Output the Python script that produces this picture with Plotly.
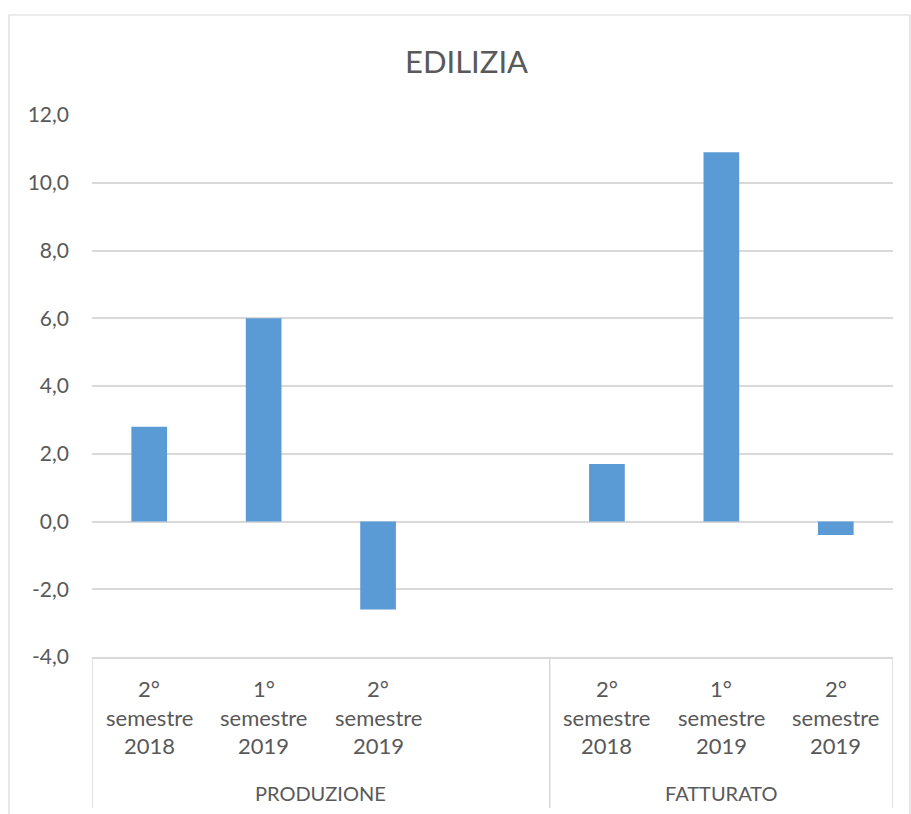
import plotly.graph_objects as go

# ---- data ----
groups = ["PRODUZIONE", "FATTURATO"]
periods_produzione = ["2° semestre 2018", "1° semestre 2019", "2° semestre 2019", ""]
periods_fatturato = ["2° semestre 2018", "1° semestre 2019", "2° semestre 2019"]
values_produzione = [2.8, 6.0, -2.6, None]
values_fatturato = [1.7, 10.9, -0.4]
y_ticks = [-4, -2, 0, 2, 4, 6, 8, 10, 12]
title_text = "EDILIZIA"

periods = periods_produzione + periods_fatturato
values = values_produzione + values_fatturato
xpos = list(range(len(periods)))
y_ticktext = [f"{v:.1f}".replace(".", ",") for v in y_ticks]

# ---- style ----
W, H = 911, 814
L, R, T, B = 92, 893, 115, 657
pw, ph = R - L, B - T
FONT = "Lato"
TXT = "#595959"
GRID = "#d9d9d9"
BAR = "#5b9bd5"


def py(pixel_y):
    return (B - pixel_y) / ph


def px(pixel_x):
    return (pixel_x - L) / pw


fig = go.Figure()
fig.add_trace(go.Bar(
    x=xpos, y=values,
    marker=dict(color=BAR, line=dict(width=0)),
    width=0.312, hoverinfo="skip",
))

annotations = []
# category labels (three lines each)
line_y = [688, 717, 746]
for i, lab in enumerate(periods):
    if not lab:
        continue
    parts = lab.split(" ")
    for j, part in enumerate(parts):
        annotations.append(dict(
            x=xpos[i], y=py(line_y[j]), xref="x", yref="paper",
            text=part, showarrow=False, xanchor="center", yanchor="middle",
            font=dict(family=FONT, size=22, color=TXT),
        ))

# group labels
n_prod = len(periods_produzione)
n_fatt = len(periods_fatturato)
group_centers = [(n_prod - 1) / 2, n_prod + (n_fatt - 1) / 2]
for g, c in zip(groups, group_centers):
    annotations.append(dict(
        x=c, y=py(793), xref="x", yref="paper",
        text=g, showarrow=False, xanchor="center", yanchor="middle",
        font=dict(family=FONT, size=20, color=TXT),
    ))

# title
annotations.append(dict(
    x=px(466), y=py(61), xref="paper", yref="paper",
    text=title_text, showarrow=False, xanchor="center", yanchor="middle",
    font=dict(family=FONT, size=31, color=TXT),
))

shapes = []
# group dividers
for xd in [-0.5, n_prod - 0.5, len(periods) - 0.5]:
    shapes.append(dict(type="line", xref="x", yref="paper",
                       x0=xd, x1=xd, y0=0, y1=py(808),
                       line=dict(color=GRID, width=1.5)))
# chart border
shapes.append(dict(type="rect", xref="paper", yref="paper",
                   x0=px(9), x1=px(910), y0=py(830), y1=py(15),
                   line=dict(color=GRID, width=1.2), fillcolor="rgba(0,0,0,0)",
                   layer="below"))

fig.update_layout(
    width=W, height=H,
    margin=dict(l=L, r=W - R, t=T, b=H - B, pad=0),
    paper_bgcolor="white", plot_bgcolor="white",
    showlegend=False,
    annotations=annotations,
    shapes=shapes,
    xaxis=dict(
        range=[-0.5, len(periods) - 0.5],
        showticklabels=False, showgrid=False, zeroline=False,
        showline=True, linecolor=GRID, linewidth=1.5, ticks="",
        fixedrange=True,
    ),
    yaxis=dict(
        range=[y_ticks[0], y_ticks[-1]],
        tickvals=y_ticks, ticktext=y_ticktext,
        showgrid=True, gridcolor=GRID, gridwidth=1.5,
        zeroline=True, zerolinecolor=GRID, zerolinewidth=1.5,
        showline=False, ticks="",
        ticklabelstandoff=22,
        tickfont=dict(family=FONT, size=21, color=TXT),
        fixedrange=True,
    ),
)

fig.write_html("out.html",
               config={"displayModeBar": False},
               post_script="document.body.style.margin='0';document.body.style.padding='0';")
